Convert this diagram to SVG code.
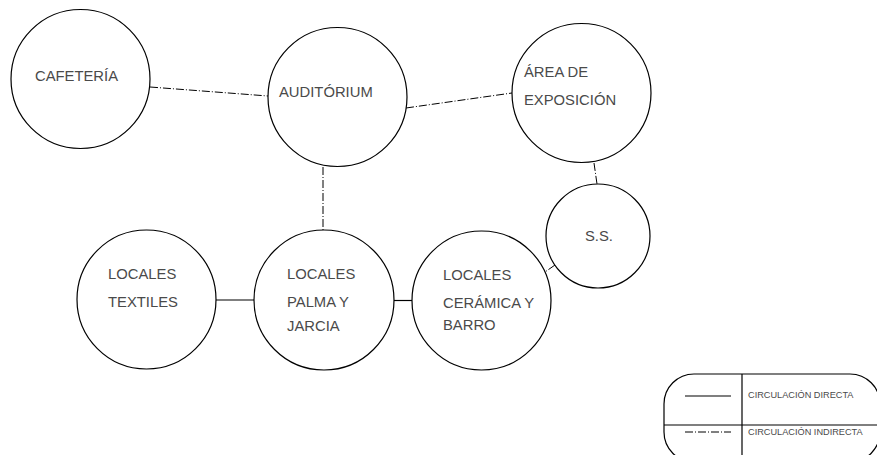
<svg xmlns="http://www.w3.org/2000/svg" width="877" height="455" viewBox="0 0 877 455">
  <style>
    .node circle { fill: #ffffff; stroke: #000000; stroke-width: 1.2; }
    .lbl { font-family: "Liberation Sans", Arial, sans-serif; font-size: 14.8px; fill: #4a4a4a; }
    .leg { font-family: "Liberation Sans", Arial, sans-serif; font-size: 9.2px; fill: #4a4a4a; }
    .direct { stroke: #000000; stroke-width: 1.2; fill: none; }
    .indirect { stroke: #000000; stroke-width: 1; fill: none; stroke-dasharray: 8 2 1 2; }
  </style>
  <rect width="877" height="455" fill="#ffffff"/>

  <!-- connectors -->
  <g id="connectors">
    <line class="indirect" x1="150" y1="87" x2="268" y2="96"/>
    <line class="indirect" x1="406" y1="108" x2="512" y2="93"/>
    <line class="indirect" x1="323" y1="167" x2="323" y2="230"/>
    <line class="indirect" x1="594" y1="163" x2="597" y2="184"/>
    <line class="indirect" x1="555" y1="265" x2="545" y2="272"/>
    <line class="direct" x1="216" y1="300" x2="254" y2="300"/>
    <line class="direct" x1="394" y1="300.5" x2="412" y2="300.5"/>
  </g>

  <!-- nodes -->
  <g id="cafeteria" class="node">
    <circle cx="80.5" cy="79" r="69.5"/>
    <text class="lbl" x="35" y="81">CAFETERÍA</text>
  </g>
  <g id="auditorium" class="node">
    <circle cx="337.5" cy="97" r="69.5"/>
    <text class="lbl" x="279" y="97">AUDITÓRIUM</text>
  </g>
  <g id="area-exposicion" class="node">
    <circle cx="581.5" cy="93" r="69.5"/>
    <text class="lbl" x="524" y="77">ÁREA DE</text>
    <text class="lbl" x="524" y="105">EXPOSICIÓN</text>
  </g>
  <g id="ss" class="node">
    <circle cx="598" cy="236" r="52"/>
    <text class="lbl" x="585" y="241">S.S.</text>
  </g>
  <g id="locales-textiles" class="node">
    <circle cx="146.5" cy="299.5" r="69.5"/>
    <text class="lbl" x="108" y="279">LOCALES</text>
    <text class="lbl" x="108" y="307">TEXTILES</text>
  </g>
  <g id="locales-palma" class="node">
    <circle cx="324" cy="300" r="70"/>
    <text class="lbl" x="287" y="279">LOCALES</text>
    <text class="lbl" x="287" y="307">PALMA Y</text>
    <text class="lbl" x="287" y="331">JARCIA</text>
  </g>
  <g id="locales-ceramica" class="node">
    <circle cx="481.5" cy="300.5" r="69.5"/>
    <text class="lbl" x="443" y="280">LOCALES</text>
    <text class="lbl" x="443" y="308">CERÁMICA Y</text>
    <text class="lbl" x="443" y="330">BARRO</text>
  </g>

  <!-- legend -->
  <g id="legend">
    <rect x="664" y="374" width="216" height="88" rx="30" ry="30" fill="#ffffff" stroke="#000000" stroke-width="1.2"/>
    <line x1="742" y1="374" x2="742" y2="462" stroke="#000000" stroke-width="1.2"/>
    <line x1="664" y1="425" x2="880" y2="425" stroke="#000000" stroke-width="1.2"/>
    <line class="direct" x1="685" y1="396" x2="731" y2="396"/>
    <line class="indirect" x1="685" y1="432" x2="731" y2="432"/>
    <text class="leg" x="748" y="398">CIRCULACIÓN DIRECTA</text>
    <text class="leg" x="748" y="435">CIRCULACIÓN INDIRECTA</text>
  </g>
</svg>
